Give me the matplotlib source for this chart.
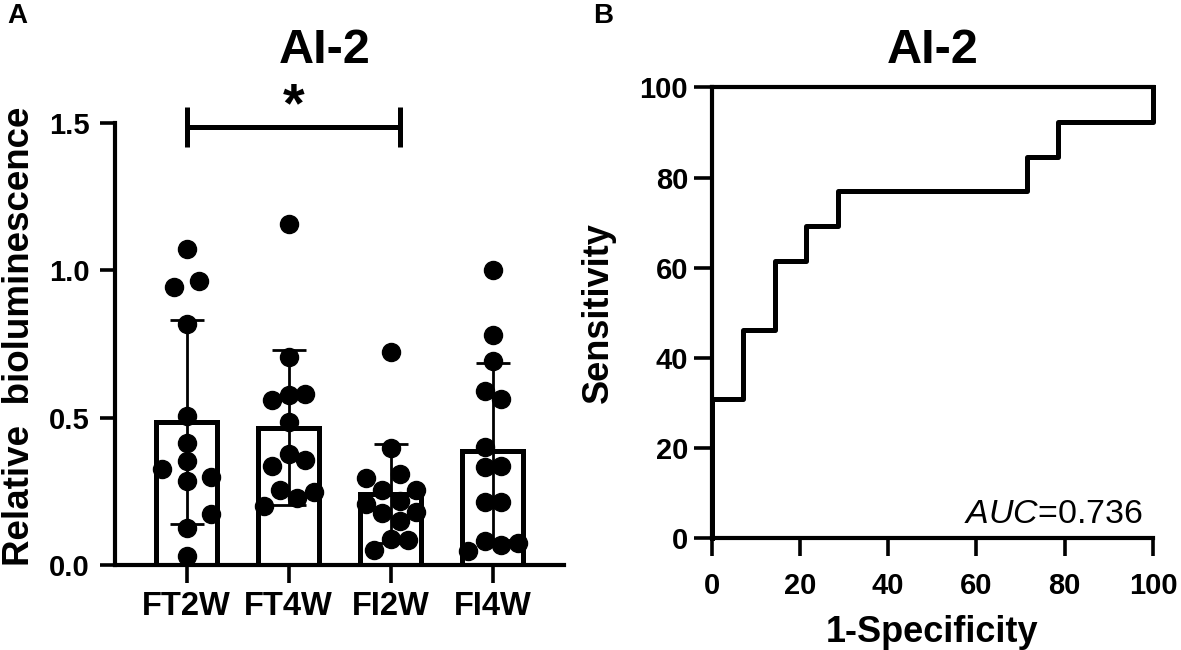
import numpy as np
import matplotlib
matplotlib.use('Agg')
import matplotlib.pyplot as plt

plt.rcParams['font.family'] = ['Liberation Sans', 'DejaVu Sans']
plt.rcParams['font.weight'] = 'bold'
plt.rcParams['mathtext.fontset'] = 'custom'
plt.rcParams['mathtext.rm'] = 'Liberation Sans:weight=normal'
plt.rcParams['mathtext.it'] = 'Liberation Sans:style=italic:weight=normal'

# panel A data (relative bioluminescence per sample)
groups = ['FT2W', 'FT4W', 'FI2W', 'FI4W']
ft2w = [1.072, 0.943, 0.962, 0.818, 0.506, 0.415, 0.352, 0.324, 0.286, 0.299, 0.172, 0.126, 0.030]
ft4w = [1.157, 0.705, 0.561, 0.576, 0.579, 0.485, 0.376, 0.336, 0.356, 0.256, 0.228, 0.246, 0.200]
fi2w = [0.722, 0.397, 0.294, 0.308, 0.256, 0.254, 0.207, 0.217, 0.177, 0.180, 0.150, 0.087, 0.085, 0.051]
fi4w = [0.999, 0.781, 0.691, 0.590, 0.564, 0.401, 0.333, 0.336, 0.214, 0.214, 0.082, 0.068, 0.073, 0.048]

# horizontal spread of the dots (layout only)
jit_ft2w = [0, -0.124, 0.124, 0, 0, 0, 0, -0.244, 0, 0.244, 0.244, 0, 0]
jit_ft4w = [0, 0, -0.163, 0, 0.163, 0, 0, -0.163, 0.163, -0.081, 0.081, 0.244, -0.244]
jit_fi2w = [0, 0, -0.244, 0.088, -0.081, 0.251, -0.244, 0.088, -0.081, 0.251, 0.088, 0, 0.166, -0.163]
jit_fi4w = [0, 0, 0, -0.081, 0.081, -0.081, -0.081, 0.081, -0.081, 0.081, -0.081, 0.081, 0.244, -0.244]

# panel B data: ROC corner points (1-specificity, sensitivity) in %
fpr = [0, 0, 7.14, 7.14, 14.29, 14.29, 21.43, 21.43, 28.57, 28.57, 71.43, 71.43, 78.57, 78.57, 100, 100]
tpr = [0, 30.77, 30.77, 46.15, 46.15, 61.54, 61.54, 69.23, 69.23, 76.92, 76.92, 84.62, 84.62, 92.31, 92.31, 100]
auc = 0.736

data = [ft2w, ft4w, fi2w, fi4w]
jits = [jit_ft2w, jit_ft4w, jit_fi2w, jit_fi4w]
means = [np.mean(d) for d in data]
sds = [np.std(d, ddof=1) for d in data]

fig = plt.figure(figsize=(11.81, 6.5), dpi=100)

# ---- panel A
axA = fig.add_axes([0.0974, 0.1308, 0.3804, 0.6804])
x = np.arange(len(groups))
axA.bar(x, means, width=0.6, color='white', edgecolor='black', linewidth=3.6, zorder=2)
axA.errorbar(x, means, yerr=sds, fmt='none', ecolor='black', elinewidth=2,
             capsize=12, capthick=2, zorder=3)
for i in range(len(groups)):
    axA.plot(i + np.array(jits[i]), data[i], 'o', color='black', ms=13, zorder=4, clip_on=False)

axA.set_xlim(-0.7, 3.7)
axA.set_ylim(0, 1.5)
axA.set_xticks(x)
axA.set_xticklabels(groups, fontsize=23.5, fontweight='bold')
axA.set_yticks([0, 0.5, 1.0, 1.5])
axA.set_yticklabels(['0.0', '0.5', '1.0', '1.5'], fontsize=21, fontweight='bold')
for s in ['top', 'right']:
    axA.spines[s].set_visible(False)
for s in ['left', 'bottom']:
    axA.spines[s].set_linewidth(3)
axA.tick_params(axis='y', length=11, width=2.6, pad=7)
axA.tick_params(axis='x', length=13, width=2.6, pad=6)

# significance bracket FT2W vs FI2W
bx0, bx1, by = 0, 2.09, 1.484
axA.plot([bx0, bx1], [by, by], color='black', lw=3.6, clip_on=False, solid_capstyle='butt')
axA.plot([bx0, bx0], [1.416, 1.552], color='black', lw=3.6, clip_on=False, solid_capstyle='butt')
axA.plot([bx1, bx1], [1.416, 1.552], color='black', lw=3.6, clip_on=False, solid_capstyle='butt')
axA.text((bx0 + bx1) / 2, 1.505, '*', ha='center', va='baseline', fontsize=40, fontweight='bold')

fig.text(0.0165, 0.483, 'Relative  bioluminescence', rotation=90, ha='center', va='center',
         fontsize=26.5, fontweight='bold')
fig.text(0.2752, 0.903, 'AI-2', ha='center', va='baseline', fontsize=35, fontweight='bold')
fig.text(0.0065, 0.964, 'A', ha='left', va='baseline', fontsize=20, fontweight='bold')

# ---- panel B
axB = fig.add_axes([0.6026, 0.1729, 0.3737, 0.6925])
axB.plot(fpr, tpr, color='black', lw=3.6, clip_on=False, zorder=3)
axB.set_xlim(0, 100)
axB.set_ylim(0, 100)
axB.set_xticks(range(0, 101, 20))
axB.set_yticks(range(0, 101, 20))
axB.tick_params(labelsize=21)
for lab in axB.get_xticklabels() + axB.get_yticklabels():
    lab.set_fontweight('bold')
axB.spines['right'].set_visible(False)
for s in ['left', 'bottom', 'top']:
    axB.spines[s].set_linewidth(3)
axB.tick_params(axis='y', length=13, width=2.6, pad=4)
axB.tick_params(axis='x', length=13, width=2.6, pad=12)
axB.text(97.6, 3.2, r'$\mathit{AUC}$=' + f'{auc:.3f}', ha='right', va='baseline',
         fontsize=24.5, fontweight='normal')

fig.text(0.5063, 0.519, 'Sensitivity', rotation=90, ha='center', va='center',
         fontsize=26, fontweight='bold')
fig.text(0.7894, 0.0123, '1-Specificity', ha='center', va='baseline', fontsize=26, fontweight='bold')
fig.text(0.7894, 0.903, 'AI-2', ha='center', va='baseline', fontsize=35, fontweight='bold')
fig.text(0.502, 0.964, 'B', ha='left', va='baseline', fontsize=20, fontweight='bold')

fig.savefig('out.png', dpi=100)
